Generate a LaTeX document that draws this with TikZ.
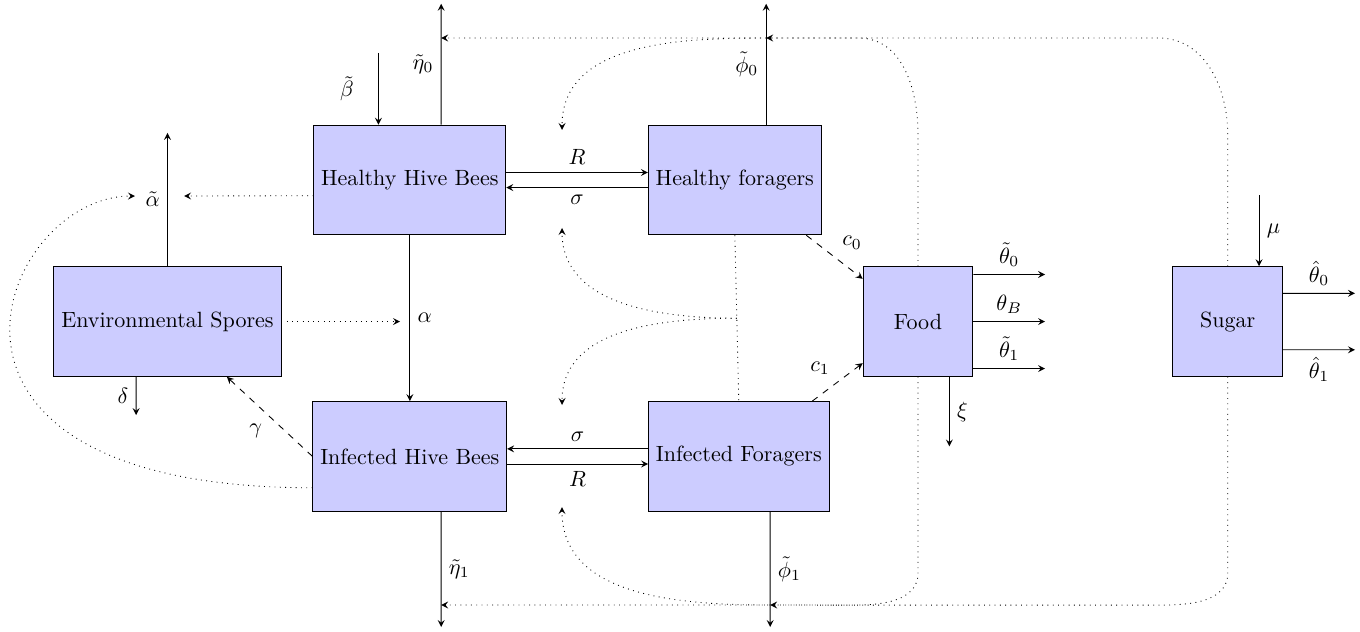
\documentclass[tikz,border=0pt]{standalone}
\usepackage{amsmath,amssymb}
\usepackage{tikz}
\usetikzlibrary{calc}

\begin{document}
\begin{tikzpicture}
        % Setup the style for the compartments and flows
        \tikzset{box style/.style={rectangle,
                                   draw=black,
                                   fill=blue!20,
                                   minimum width=1.75cm,
                                   minimum height=1.75cm},
                 flow/.style={draw, ->, >=stealth},
                 transfer/.style={flow, dashed},
                 feedback/.style={flow, dotted}}
        \useasboundingbox (0,0) rectangle (21.69,-10.064);

        % Draw the compartments
        \node[box style] at (6.536,-2.871) (hhb) {Healthy Hive Bees};
        \node[box style] at (11.719,-2.871) (hf) {Healthy foragers};
        \node[box style] at (2.671,-5.128) (es) {Environmental Spores};
        \node[box style] at (6.536,-7.279) (ihb) {Infected Hive Bees};
        \node[box style] at (11.783,-7.279) (if) {Infected Foragers};
        \node[box style] at (14.641,-5.128) (food) {Food};
        \node[box style] at (19.58,-5.128) (sugar) {Sugar};

        % Free ends of the flows
        \coordinate (eta0) at (7.036,-0.06);
        \coordinate (beta) at (6.036,-0.845);
        \coordinate (phi0) at (12.219,-0.06);
        \coordinate (eta1) at (7.036,-10.0);
        \coordinate (phi1) at (12.283,-10.0);
        \coordinate (alpha0) at (2.671,-2.12);
        \coordinate (delta) at (2.171,-6.62);
        \coordinate (xi) at (15.141,-7.12);
        \coordinate (theta0) at (16.667,-4.378);
        \coordinate (thetaB) at (16.667,-5.128);
        \coordinate (theta1) at (16.667,-5.878);
        \coordinate (mu) at (20.08,-3.11);
        \coordinate (hat0) at (21.61,-4.678);
        \coordinate (hat1) at (21.61,-5.578);

        % Ends of the dotted feedback lines
        \coordinate (etaTop) at (7.036,-0.606);
        \coordinate (phiTop) at (12.219,-0.606);
        \coordinate (etaBot) at (7.036,-9.649);
        \coordinate (phiBot) at (12.283,-9.649);
        \coordinate (topTip) at (8.963,-2.073);
        \coordinate (upTip) at (8.963,-3.636);
        \coordinate (downTip) at (8.963,-6.459);
        \coordinate (botTip) at (8.963,-8.086);
        \coordinate (alphaL) at (2.153,-3.126);
        \coordinate (alphaR) at (2.935,-3.126);
        \coordinate (esR) at (6.38,-5.128);
        \coordinate (split) at ($(hf.south)!0.5!(if.north)$);

        % Connect the compartments with arrows
        \path
            ([yshift=0.12cm]hhb.east)   edge[flow] node[above] {$R$}      ([yshift=0.12cm]hf.west)
            ([yshift=-0.12cm]hf.west)   edge[flow] node[below] {$\sigma$} ([yshift=-0.12cm]hhb.east)
            ([yshift=0.12cm]if.west)    edge[flow] node[above] {$\sigma$} ([yshift=0.12cm]ihb.east)
            ([yshift=-0.12cm]ihb.east)  edge[flow] node[below] {$R$}      ([yshift=-0.12cm]if.west)
            (hhb)                       edge[flow] node[right] {$\alpha$} (ihb)
            ([xshift=0.5cm]hhb.north)   edge[flow] node[left] {$\tilde{\eta}_0$} (eta0)
            (beta)                      edge[flow] node[left=0.27cm] {$\tilde{\beta}$} ([xshift=-0.5cm]hhb.north)
            ([xshift=0.5cm]hf.north)    edge[flow] node[left] {$\tilde{\phi}_0$} (phi0)
            ([xshift=0.5cm]ihb.south)   edge[flow] node[right] {$\tilde{\eta}_1$} (eta1)
            ([xshift=0.5cm]if.south)    edge[flow] node[right] {$\tilde{\phi}_1$} (phi1)
            (es)                        edge[flow] node[left] {$\tilde{\alpha}$} (alpha0)
            ([xshift=-0.5cm]es.south)   edge[flow] node[left] {$\delta$} (delta)
            ([xshift=0.5cm]food.south)  edge[flow] node[right] {$\xi$} (xi)
            ([yshift=0.75cm]food.east)  edge[flow] node[above] {$\tilde{\theta}_0$} (theta0)
            (food)                      edge[flow] node[above] {$\theta_B$} (thetaB)
            ([yshift=-0.75cm]food.east) edge[flow] node[above] {$\tilde{\theta}_1$} (theta1)
            (mu)                        edge[flow] node[right] {$\mu$} ([xshift=0.5cm]sugar.north)
            ([yshift=0.45cm]sugar.east) edge[flow] node[above] {$\hat{\theta}_0$} (hat0)
            ([yshift=-0.45cm]sugar.east) edge[flow] node[below] {$\hat{\theta}_1$} (hat1);

        % Spore and food transfers
        \path
            (ihb.west) edge[transfer] node[below left] {$\gamma$} (es)
            (hf)       edge[transfer] node[above right] {$c_0$} (food)
            (if)       edge[transfer] node[above left] {$c_1$} (food);

        % Dotted feedback
        \path
            ([yshift=-0.25cm]hhb.west) edge[feedback] (alphaR)
            (es)     edge[feedback] (esR)
            (phiTop) edge[feedback, out=180, in=90] (topTip)
            (split)  edge[feedback, out=180, in=-90] (upTip)
            (split)  edge[feedback, out=180, in=90] (downTip)
            (phiBot) edge[feedback, out=180, in=-90] (botTip);
        \draw[dotted] (hf.south) -- (if.north);
        \draw[feedback] ([yshift=-0.5cm]ihb.west)
            .. controls +(-6.9,0) and +(-2.15,0) .. (alphaL);
        \draw[feedback] (food.north) -- ++(0,2.1)
            to[out=90, in=0] ++(-0.95,1.54) -- (phiTop);
        \draw[feedback] (sugar.north) -- ++(0,2.1)
            to[out=90, in=0] ++(-1.1,1.54) -- (etaTop);
        \draw[feedback] (food.south) -- ++(0,-3.13)
            to[out=-90, in=0] ++(-1.0,-0.51) -- (phiBot);
        \draw[feedback] (sugar.south) -- ++(0,-3.13)
            to[out=-90, in=0] ++(-1.07,-0.51) -- (etaBot);
\end{tikzpicture}
\end{document}
